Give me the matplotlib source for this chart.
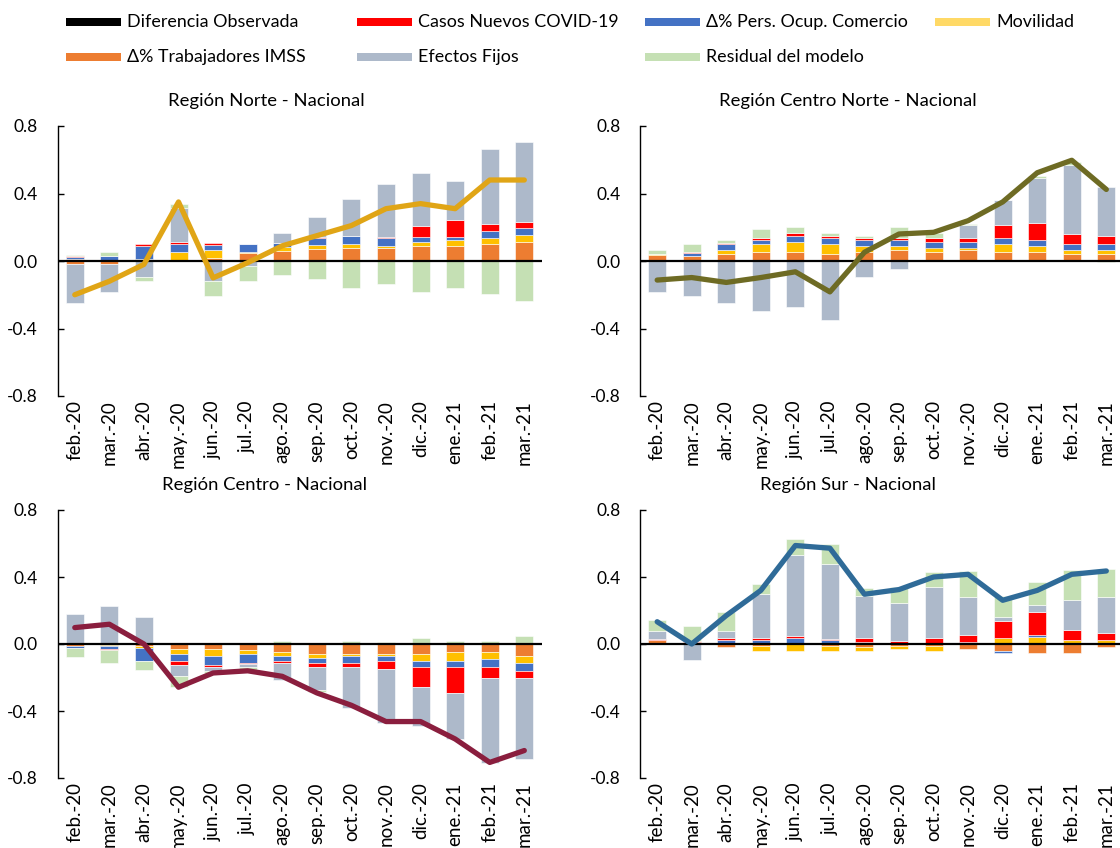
import numpy as np
import matplotlib
matplotlib.use("Agg")
import matplotlib.pyplot as plt
from matplotlib.patches import Rectangle

plt.rcParams['font.family'] = ['Lato', 'DejaVu Sans']

months = ["feb.-20", "mar.-20", "abr.-20", "may.-20", "jun.-20", "jul.-20", "ago.-20",
          "sep.-20", "oct.-20", "nov.-20", "dic.-20", "ene.-21", "feb.-21", "mar.-21"]

series_names = ["Δ% Trabajadores IMSS", "Movilidad", "Δ% Pers. Ocup. Comercio",
                "Casos Nuevos COVID-19", "Efectos Fijos", "Residual del modelo"]
series_colors = ["#ED7D31", "#FFC000", "#4472C4", "#FF0000", "#ADB9CA", "#C5E0B4"]

# ---- Región Norte ----
norte_imss = [-0.015, -0.015, 0.004, 0.008, 0.02, 0.045, 0.057, 0.07, 0.077, 0.077, 0.087, 0.087, 0.10, 0.11]
norte_mov = [0.01, 0.0, 0.008, 0.048, 0.045, 0.01, 0.026, 0.022, 0.024, 0.014, 0.024, 0.035, 0.035, 0.045]
norte_pers = [0.016, 0.03, 0.074, 0.044, 0.032, 0.045, 0.026, 0.047, 0.045, 0.045, 0.033, 0.022, 0.043, 0.043]
norte_casos = [0.003, 0.002, 0.012, 0.01, 0.012, 0.0, 0.0, 0.004, 0.0, 0.006, 0.065, 0.10, 0.043, 0.033]
norte_ef = [-0.235, -0.17, -0.094, 0.205, -0.116, -0.028, 0.059, 0.115, 0.22, 0.315, 0.31, 0.233, 0.44, 0.475]
norte_resid = [0.005, 0.02, -0.024, 0.022, -0.089, -0.089, -0.083, -0.106, -0.162, -0.138, -0.183, -0.162, -0.193, -0.238]
norte_diff = [-0.20, -0.12, -0.02, 0.35, -0.10, -0.01, 0.09, 0.15, 0.21, 0.31, 0.34, 0.31, 0.48, 0.48]

# ---- Región Centro Norte ----
cnorte_imss = [0.036, 0.032, 0.044, 0.056, 0.056, 0.044, 0.056, 0.068, 0.056, 0.068, 0.056, 0.056, 0.044, 0.044]
cnorte_mov = [0.004, 0.0, 0.024, 0.046, 0.056, 0.056, 0.034, 0.022, 0.024, 0.012, 0.046, 0.034, 0.024, 0.024]
cnorte_pers = [0.0, 0.014, 0.032, 0.024, 0.034, 0.036, 0.034, 0.034, 0.034, 0.034, 0.034, 0.036, 0.034, 0.034]
cnorte_casos = [0.0, 0.005, 0.004, 0.01, 0.022, 0.012, 0.01, 0.014, 0.022, 0.022, 0.076, 0.098, 0.056, 0.046]
cnorte_ef = [-0.185, -0.207, -0.25, -0.296, -0.273, -0.352, -0.094, -0.05, 0.0, 0.076, 0.15, 0.27, 0.41, 0.29]
cnorte_resid = [0.026, 0.05, 0.018, 0.056, 0.034, 0.02, 0.014, 0.064, 0.03, 0.01, 0.0, 0.012, 0.018, -0.008]
cnorte_diff = [-0.113, -0.098, -0.127, -0.098, -0.064, -0.183, 0.052, 0.16, 0.17, 0.239, 0.35, 0.523, 0.597, 0.424]

# ---- Región Centro ----
centro_imss = [-0.01, -0.004, -0.012, -0.028, -0.028, -0.037, -0.047, -0.061, -0.061, -0.061, -0.061, -0.049, -0.049, -0.071]
centro_mov = [0.0, -0.01, -0.012, -0.033, -0.043, -0.024, -0.024, -0.022, -0.01, -0.01, -0.043, -0.055, -0.043, -0.045]
centro_pers = [-0.012, -0.018, -0.077, -0.043, -0.055, -0.055, -0.033, -0.033, -0.045, -0.033, -0.033, -0.033, -0.045, -0.043]
centro_casos = [0.0, -0.005, 0.0, -0.022, -0.01, -0.004, -0.012, -0.022, -0.022, -0.043, -0.12, -0.154, -0.065, -0.043]
centro_ef = [0.177, 0.225, 0.16, -0.067, -0.024, -0.018, -0.099, -0.134, -0.244, -0.327, -0.23, -0.278, -0.51, -0.487]
centro_resid = [-0.057, -0.075, -0.055, -0.065, -0.012, -0.02, 0.02, -0.012, 0.02, 0.01, 0.037, 0.02, 0.02, 0.047]
centro_diff = [0.098, 0.118, 0.0, -0.258, -0.173, -0.16, -0.193, -0.292, -0.366, -0.463, -0.463, -0.567, -0.707, -0.636]

# ---- Región Sur ----
sur_imss = [0.024, 0.004, -0.016, -0.012, 0.0, -0.012, -0.016, -0.012, -0.012, -0.028, -0.04, -0.051, -0.051, -0.016]
sur_mov = [0.0, 0.008, 0.0, -0.028, -0.04, -0.028, -0.024, -0.016, -0.028, 0.0, 0.034, 0.044, 0.024, 0.024]
sur_pers = [0.0, 0.0, 0.024, 0.024, 0.036, 0.024, 0.012, 0.0, 0.0, 0.012, -0.012, 0.012, 0.0, 0.0]
sur_casos = [0.004, 0.008, 0.01, 0.01, 0.01, 0.004, 0.022, 0.02, 0.034, 0.044, 0.101, 0.133, 0.061, 0.044]
sur_ef = [0.047, -0.095, 0.042, 0.267, 0.485, 0.45, 0.253, 0.222, 0.307, 0.222, 0.024, 0.046, 0.176, 0.21]
sur_resid = [0.069, 0.089, 0.113, 0.055, 0.093, 0.12, 0.045, 0.1, 0.091, 0.158, 0.129, 0.133, 0.18, 0.168]
sur_diff = [0.133, 0.0, 0.17, 0.32, 0.588, 0.572, 0.297, 0.325, 0.40, 0.416, 0.261, 0.32, 0.416, 0.436]

yticks = [-0.8, -0.4, 0.0, 0.4, 0.8]
ytick_labels = ["-0.8", "-0.4", "0.0", "0.4", "0.8"]

panels = [
    ("Región Norte - Nacional", [norte_imss, norte_mov, norte_pers, norte_casos, norte_ef, norte_resid], norte_diff, "#E0A516"),
    ("Región Centro Norte - Nacional", [cnorte_imss, cnorte_mov, cnorte_pers, cnorte_casos, cnorte_ef, cnorte_resid], cnorte_diff, "#6E6B24"),
    ("Región Centro - Nacional", [centro_imss, centro_mov, centro_pers, centro_casos, centro_ef, centro_resid], centro_diff, "#8A1E3E"),
    ("Región Sur - Nacional", [sur_imss, sur_mov, sur_pers, sur_casos, sur_ef, sur_resid], sur_diff, "#2F6B98"),
]

W, H = 1120, 848
fig = plt.figure(figsize=(W / 100, H / 100), dpi=100)

# axes rectangles in pixels: left, top, right, bottom
rects = [
    (57.5, 126, 541.6, 396),
    (639.9, 126, 1123.6, 396),
    (57.5, 510, 541.6, 778),
    (639.9, 510, 1123.6, 778),
]
title_pos = [(266, 101), (848, 101), (265, 485), (848, 485)]

x = np.arange(len(months))
for (title, series, diff, lcolor), (l, t, r, b), (tx, ty) in zip(panels, rects, title_pos):
    ax = fig.add_axes([l / W, 1 - b / H, (r - l) / W, (b - t) / H])
    pos = np.zeros(len(x))
    neg = np.zeros(len(x))
    for vals, c in zip(series, series_colors):
        v = np.array(vals, dtype=float)
        bottom = np.where(v >= 0, pos, neg)
        ax.bar(x, v, bottom=bottom, width=0.52, color=c, edgecolor="white",
               linewidth=0.4, zorder=2)
        pos += np.clip(v, 0, None)
        neg += np.clip(v, None, 0)
    ax.axhline(0, color="black", lw=1.6, zorder=3)
    ax.plot(x, diff, color=lcolor, lw=3.8, solid_capstyle="round",
            solid_joinstyle="round", zorder=4)
    ax.set_xlim(-0.5, len(x) - 0.5)
    ax.set_ylim(-0.8, 0.8)
    ax.set_yticks(yticks)
    ax.set_yticklabels(ytick_labels, fontsize=12.5)
    ax.set_xticks(x)
    ax.set_xticklabels(months, rotation=90, fontsize=13.5)
    for s in ["top", "right", "bottom"]:
        ax.spines[s].set_visible(False)
    ax.spines["left"].set_linewidth(1.0)
    ax.tick_params(axis="y", direction="in", length=4, width=1.0, pad=14)
    ax.tick_params(axis="x", length=0, pad=3)
    ax.set_facecolor("none")
    fig.text(tx / W, 1 - ty / H, title, ha="center", va="center", fontsize=13.3)

# legend (manual layout)
legend_items = [
    ("Diferencia Observada", "#000000", 66, 22),
    ("Casos Nuevos COVID-19", "#FF0000", 357, 22),
    ("Δ% Pers. Ocup. Comercio", "#4472C4", 645, 22),
    ("Movilidad", "#FFD966", 935, 22),
    ("Δ% Trabajadores IMSS", "#ED7D31", 66, 57),
    ("Efectos Fijos", "#ADB9CA", 357, 57),
    ("Residual del modelo", "#C5E0B4", 645, 57),
]
for label, color, hx, hy in legend_items:
    fig.patches.append(Rectangle((hx / W, 1 - (hy + 3.5) / H), 55 / W, 7.5 / H,
                                 transform=fig.transFigure, facecolor=color,
                                 edgecolor="none"))
    fig.text((hx + 61) / W, 1 - hy / H, label, ha="left", va="center", fontsize=12.9)

fig.savefig("out.png", dpi=100)
